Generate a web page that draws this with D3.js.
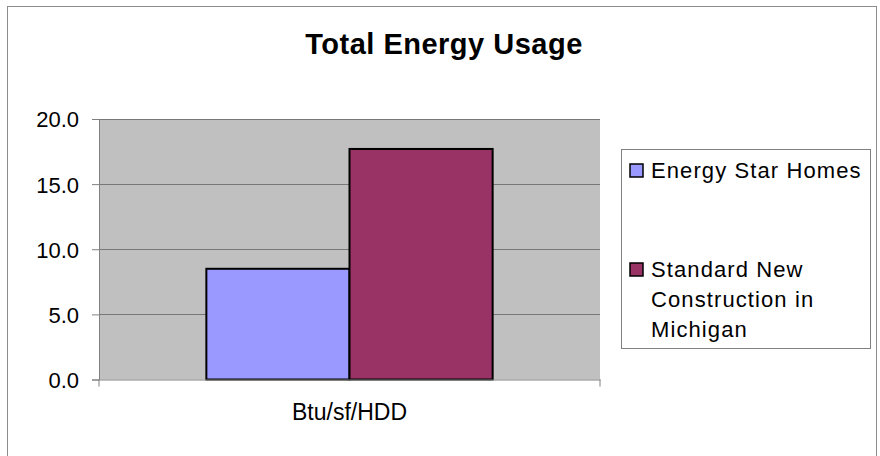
<!DOCTYPE html>
<html>
<head>
<meta charset="utf-8">
<script src="https://cdn.jsdelivr.net/npm/d3@7"></script>
<style>
  body { margin: 0; background: #fff; }
  svg text { font-family: "Liberation Sans", Arial, sans-serif; fill: #000; }
</style>
</head>
<body>
<div id="chart"></div>
<script>
// data
const categories = ["Btu/sf/HDD"];
const seriesNames = ["Energy Star Homes", "Standard New Construction in Michigan"];
const seriesValues = [8.5, 17.7];
const seriesColors = ["#9999ff", "#993366"];
const legendLines = [["Energy Star Homes"], ["Standard New", "Construction in", "Michigan"]];
const yTicks = [0, 5, 10, 15, 20];

const W = 880, H = 456;
const plot = { left: 99, right: 600, top: 119, bottom: 379.5 };

const svg = d3.select("#chart").append("svg")
    .attr("width", W)
    .attr("height", H);

// outer frame
svg.append("rect")
    .attr("x", 7.5).attr("y", 6.5)
    .attr("width", 869).attr("height", 460)
    .attr("fill", "#fff")
    .attr("stroke", "#8c8c8c")
    .attr("stroke-width", 1);

// title
svg.append("text")
    .attr("x", 444).attr("y", 54)
    .attr("text-anchor", "middle")
    .style("font-size", "29px")
    .style("font-weight", "700")
    .style("letter-spacing", "0.5px")
    .text("Total Energy Usage");

const y = d3.scaleLinear()
    .domain([0, 20])
    .range([plot.bottom, plot.top]);

const x0 = d3.scaleBand()
    .domain(categories)
    .range([plot.left, plot.right]);

const x1 = d3.scaleBand()
    .domain(seriesNames)
    .range([0, x0.bandwidth()])
    .paddingInner(0)
    .paddingOuter(0.75);

// plot background
svg.append("rect")
    .attr("x", plot.left).attr("y", plot.top)
    .attr("width", plot.right - plot.left)
    .attr("height", plot.bottom - plot.top)
    .attr("fill", "#c0c0c0");

// gridlines
svg.append("g")
    .selectAll("line")
    .data(yTicks.filter(d => d > 0))
    .join("line")
    .attr("x1", plot.left).attr("x2", plot.right)
    .attr("y1", d => Math.round(y(d)) + 0.5)
    .attr("y2", d => Math.round(y(d)) + 0.5)
    .attr("stroke", "#777")
    .attr("stroke-width", 1);

// bars
svg.append("g")
    .selectAll("rect")
    .data(seriesValues)
    .join("rect")
    .attr("x", (d, i) => x0(categories[0]) + x1(seriesNames[i]))
    .attr("y", d => y(d))
    .attr("width", x1.bandwidth())
    .attr("height", d => plot.bottom - y(d))
    .attr("fill", (d, i) => seriesColors[i])
    .attr("stroke", "#000")
    .attr("stroke-width", 2);

// y axis
const yAxis = svg.append("g")
    .attr("transform", `translate(${plot.left},0)`)
    .call(d3.axisLeft(y).tickValues(yTicks).tickFormat(d3.format(".1f")).tickSize(7).tickPadding(13));
yAxis.select(".domain").attr("stroke", "#808080");
yAxis.selectAll(".tick line").attr("stroke", "#808080");
yAxis.selectAll(".tick text")
    .style("font-size", "22px")
    .attr("dy", "0.36em");

// x axis
const xAxis = svg.append("g")
    .attr("transform", `translate(0,${plot.bottom})`)
    .call(d3.axisBottom(x0).tickSize(0).tickPadding(24));
xAxis.select(".domain").attr("stroke", "#808080");
xAxis.selectAll(".tick text")
    .style("font-size", "23px")
    .attr("dy", "0.71em");
svg.append("g")
    .selectAll("line")
    .data(x0.range())
    .join("line")
    .attr("x1", d => d).attr("x2", d => d)
    .attr("y1", plot.bottom).attr("y2", plot.bottom + 7)
    .attr("stroke", "#808080");

// legend
const legend = svg.append("g");
legend.append("rect")
    .attr("x", 621.5).attr("y", 149.5)
    .attr("width", 249).attr("height", 199)
    .attr("fill", "#fff")
    .attr("stroke", "#808080");

const entryTop = [164, 263];
legendLines.forEach((lines, i) => {
  legend.append("rect")
      .attr("x", 630).attr("y", entryTop[i])
      .attr("width", 13).attr("height", 13)
      .attr("fill", seriesColors[i])
      .attr("stroke", "#000")
      .attr("stroke-width", 1.5);
  lines.forEach((t, j) => {
    legend.append("text")
        .attr("x", 651)
        .attr("y", entryTop[i] + 14 + j * 30)
        .style("font-size", "22px")
        .style("letter-spacing", "1.1px")
        .text(t);
  });
});
</script>
</body>
</html>
